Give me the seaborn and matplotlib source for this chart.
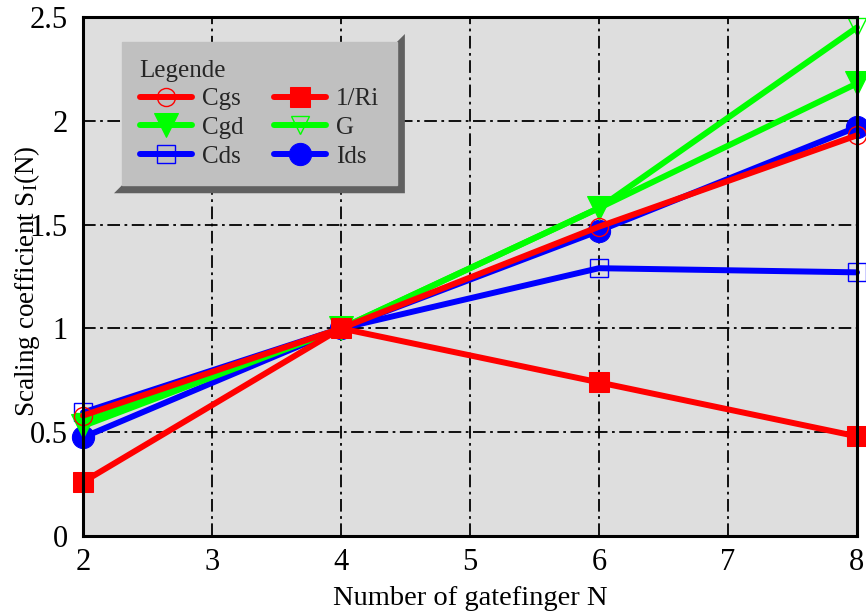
import matplotlib
matplotlib.use("Agg")
import matplotlib.pyplot as plt
import numpy as np
import pandas as pd
import seaborn as sns
from matplotlib.patches import Polygon
from matplotlib.ticker import MultipleLocator

# Number of gate fingers and the normalised scaling coefficients
fingers = [2, 4, 6, 8]
cgs = [0.58, 1.00, 1.49, 1.93]
cgd = [0.53, 1.00, 1.58, 2.18]
cds = [0.595, 1.00, 1.29, 1.27]
ri_inv = [0.26, 1.00, 0.74, 0.48]
g_vals = [0.55, 1.00, 1.58, 2.45]
ids = [0.475, 1.00, 1.47, 1.97]

x_ticks = [2, 3, 4, 5, 6, 7, 8]
y_ticks = [0, 0.5, 1, 1.5, 2, 2.5]
y_tick_labels = ["0", "0.5", "1", "1.5", "2", "2.5"]

series = {"Cgs": cgs, "Cgd": cgd, "Cds": cds, "1/Ri": ri_inv, "G": g_vals, "Ids": ids}
df = pd.DataFrame(
    [(name, n, v) for name, vals in series.items() for n, v in zip(fingers, vals)],
    columns=["series", "N", "value"],
)

sns.set_theme(style="white")
plt.rcParams["font.family"] = ["Liberation Serif", "DejaVu Serif"]
plt.rcParams["mathtext.fontset"] = "custom"
plt.rcParams["mathtext.rm"] = "Liberation Serif"
plt.rcParams["mathtext.it"] = "Liberation Serif:italic"

RED, GREEN, BLUE = "#ff0000", "#00ff00", "#0000ff"
styles = {
    "Cgs": dict(color=RED, marker="o", markersize=13, markerfacecolor="none", markeredgecolor=RED, markeredgewidth=1.0),
    "Cgd": dict(color=GREEN, marker="v", markersize=17, markerfacecolor=GREEN, markeredgecolor=GREEN),
    "Cds": dict(color=BLUE, marker="s", markersize=13, markerfacecolor="none", markeredgecolor=BLUE, markeredgewidth=1.0),
    "1/Ri": dict(color=RED, marker="s", markersize=14, markerfacecolor=RED, markeredgecolor=RED),
    "G": dict(color=GREEN, marker="v", markersize=13, markerfacecolor="none", markeredgecolor=GREEN, markeredgewidth=1.0),
    "Ids": dict(color=BLUE, marker="o", markersize=16, markerfacecolor=BLUE, markeredgecolor=BLUE),
}
draw_order = ["Ids", "Cds", "G", "Cgd", "1/Ri", "Cgs"]
zorders = {name: 3 + i * 0.1 for i, name in enumerate(draw_order)}

fig = plt.figure(figsize=(8.66, 6.12), dpi=100)
ax = fig.add_axes([83 / 866, 1 - 536 / 612, 774 / 866, 519 / 612])
ax.set_facecolor("#dedede")

for name in draw_order:
    sub = df[df["series"] == name]
    sns.lineplot(data=sub, x="N", y="value", ax=ax, linewidth=4.3, clip_on=False,
                 zorder=zorders[name], label=name, legend=False, **styles[name])

ax.set_xlim(2, 8)
ax.set_ylim(0, 2.5)
ax.set_xticks(x_ticks)
ax.set_xticklabels([str(t) for t in x_ticks])
ax.set_yticks(y_ticks)
ax.set_yticklabels(y_tick_labels)
ax.xaxis.set_minor_locator(MultipleLocator(0.2))
ax.yaxis.set_minor_locator(MultipleLocator(0.1))
ax.tick_params(which="both", direction="in", top=False, right=False, colors="black",
               labelsize=22, width=1.2)
ax.tick_params(which="major", length=10)
ax.tick_params(which="minor", length=6)
ax.tick_params(axis="x", which="major", pad=9)
ax.tick_params(axis="y", which="major", pad=11)

ax.grid(True, which="major", color="black", linewidth=1.3, dashes=(7, 2.5, 1.5, 2.5))
ax.set_axisbelow(True)
for sp in ax.spines.values():
    sp.set_visible(True)
    sp.set_color("black")
    sp.set_linewidth(2.2)
    sp.set_zorder(6)

ax.set_xlabel("Number of gatefinger N", fontsize=20.5, color="black")
ax.xaxis.set_label_coords(0.5, -0.097)
ax.set_ylabel(r"Scaling coefficient S$_{\mathrm{I}}$(N)", fontsize=19.5, color="black")
ax.yaxis.set_label_coords(-0.053, 0.49)

# Legend in two columns, order: Cgs, Cgd, Cds | 1/Ri, G, Ids
handles, labels = ax.get_legend_handles_labels()
lookup = dict(zip(labels, handles))
order = ["Cgs", "Cgd", "Cds", "1/Ri", "G", "Ids"]
leg = ax.legend([lookup[k] for k in order], order, title="Legende", ncol=2,
                loc="upper left", bbox_to_anchor=(122 / 866, 1 - 42 / 612),
                bbox_transform=fig.transFigure, fontsize=18, title_fontsize=18,
                frameon=True, fancybox=False, facecolor="#c0c0c0", edgecolor="#c0c0c0",
                framealpha=1, handlelength=2.1, labelspacing=0.25, columnspacing=1.2,
                handletextpad=0.4, borderpad=0.7, borderaxespad=0)
leg._legend_box.align = "left"
leg.set_zorder(8)

# Bevelled dark frame behind the legend box
fig.canvas.draw()
bb = leg.get_window_extent()
d = 8
x0, y0, x1, y1 = bb.x0, bb.y0, bb.x1, bb.y1
shadow = Polygon([(x0 - d, y0 - d), (x0, y0), (x1, y0), (x1, y1), (x1 + d, y1 + d), (x1 + d, y0 - d)],
                 closed=True, facecolor="#606060", edgecolor="none", transform=None,
                 zorder=7.9, clip_on=False)
ax.add_artist(shadow)

fig.savefig("out.png", dpi=100, facecolor="white")
